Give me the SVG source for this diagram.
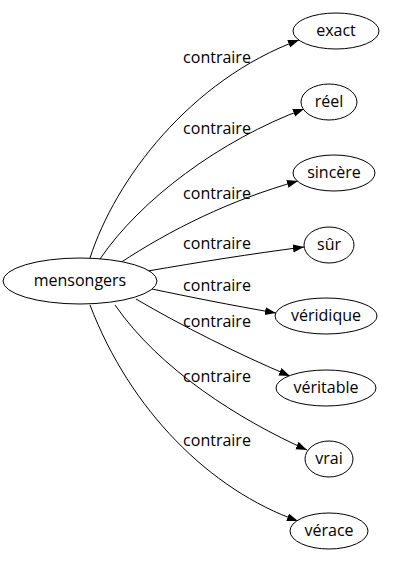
<svg xmlns="http://www.w3.org/2000/svg" width="406" height="563" viewBox="0 0 406 563">
<defs>
<marker id="arr" markerUnits="userSpaceOnUse" markerWidth="12" markerHeight="9" refX="11" refY="4" orient="auto">
<path d="M0,0 L11,4 L0,8 z" fill="#000"/>
</marker>
<style>
.n ellipse{fill:#fff;stroke:#000;stroke-width:1}
text{font-family:"Open Sans","Noto Sans","Liberation Sans",sans-serif;font-size:16px;fill:#000;text-anchor:middle}
.e path{fill:none;stroke:#000;stroke-width:1;marker-end:url(#arr)}
</style>
</defs>
<rect width="406" height="563" fill="#fff"/>
<g id="edges" class="e">
<path d="M90,258 C115,180 190,80 299,40"/>
<path d="M100,259 C140,200 220,140 304,109"/>
<path d="M120,263 C170,230 230,200 298,181"/>
<path d="M148,271 C200,262 250,254 304,247"/>
<path d="M152,289 C190,297 230,305 276,313"/>
<path d="M136,299 C180,325 240,355 290,376"/>
<path d="M115,305 C160,370 240,420 307,450"/>
<path d="M90,305 C130,410 210,490 298,521"/>
</g>
<g id="labels">
<text x="217" y="63">contraire</text>
<text x="217" y="134">contraire</text>
<text x="217" y="199">contraire</text>
<text x="217" y="249">contraire</text>
<text x="217" y="291">contraire</text>
<text x="217" y="327">contraire</text>
<text x="217" y="382">contraire</text>
<text x="217" y="446">contraire</text>
</g>
<g id="mensongers" class="n"><ellipse cx="80" cy="281" rx="77" ry="23"/><text x="80" y="286">mensongers</text></g>
<g id="exact" class="n"><ellipse cx="336" cy="31" rx="43" ry="18"/><text x="336" y="36">exact</text></g>
<g id="reel" class="n"><ellipse cx="329" cy="102" rx="28" ry="18"/><text x="329" y="107">réel</text></g>
<g id="sincere" class="n"><ellipse cx="334" cy="173" rx="41" ry="18"/><text x="334" y="178">sincère</text></g>
<g id="sur" class="n"><ellipse cx="329" cy="245" rx="25" ry="18"/><text x="329" y="250">sûr</text></g>
<g id="veridique" class="n"><ellipse cx="326" cy="316" rx="51" ry="18"/><text x="326" y="321">véridique</text></g>
<g id="veritable" class="n"><ellipse cx="326" cy="388" rx="50" ry="18"/><text x="326" y="393">véritable</text></g>
<g id="vrai" class="n"><ellipse cx="329" cy="459" rx="24" ry="18"/><text x="329" y="464">vrai</text></g>
<g id="verace" class="n"><ellipse cx="329" cy="531" rx="39" ry="18"/><text x="329" y="536">vérace</text></g>
</svg>
